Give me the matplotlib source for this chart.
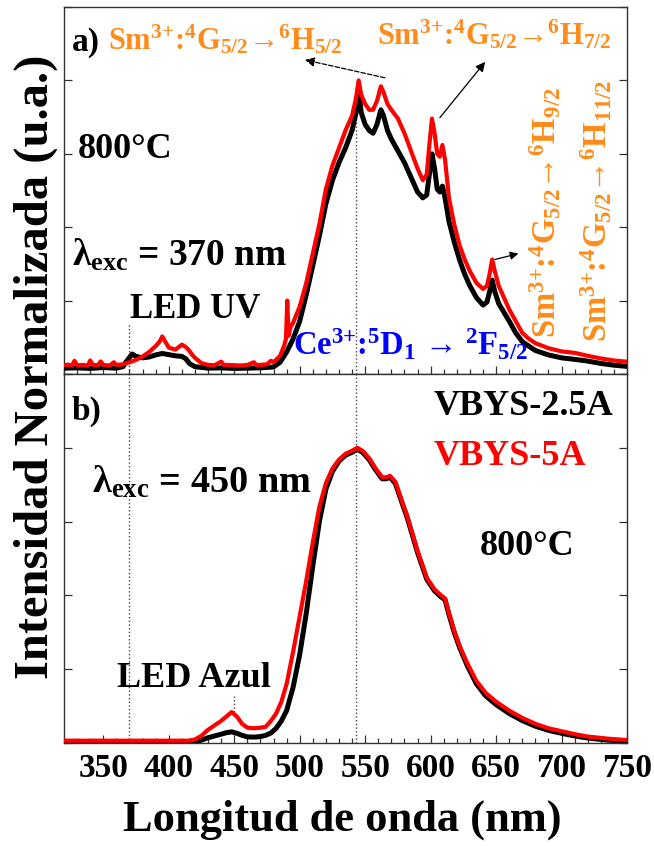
import matplotlib
matplotlib.use("Agg")
import matplotlib.pyplot as plt
from matplotlib.ticker import MultipleLocator, NullFormatter

# ---- emission spectra, excitation 370 nm (panel a) ----
wl_a_5A = [320, 323, 326, 328, 330, 335, 338, 340, 342, 346, 348, 350, 355, 358, 360, 365,
           370, 375, 380, 385, 390, 393, 395, 398, 400, 405, 410, 413, 415, 418, 420, 425,
           430, 435, 440, 442, 450, 455, 460, 465, 467, 470, 475, 478, 480, 485, 488, 489.5,
           490.5, 491.5, 493, 495, 500, 505, 510, 515, 520, 525, 530, 535, 540, 543, 545, 547,
           550, 553, 556, 559, 562, 564, 567, 570, 575, 580, 585, 590, 594, 597, 599, 601,
           603, 605, 607, 609, 611, 614, 618, 622, 626, 630, 635, 640, 643, 645, 647, 649,
           652, 656, 660, 665, 670, 675, 680, 690, 700, 710, 720, 730, 740, 750]
int_a_5A = [.030, .032, .029, .045, .030, .031, .028, .046, .031, .030, .043, .031, .029, .040, .031, .033,
            .040, .048, .060, .075, .095, .110, .128, .105, .090, .083, .100, .092, .083, .065, .055, .037,
            .031, .030, .042, .031, .030, .029, .031, .040, .030, .031, .033, .045, .040, .062, .095, .120,
            .250, .130, .160, .175, .230, .310, .410, .510, .630, .710, .770, .830, .880, .940, 1.00, .950,
            .920, .900, .900, .930, .980, .960, .920, .900, .870, .820, .760, .700, .660, .680, .780, .870,
            .820, .750, .740, .780, .730, .600, .510, .440, .390, .350, .310, .290, .300, .340, .390, .350,
            .300, .260, .220, .180, .140, .120, .105, .088, .077, .072, .062, .053, .046, .042]

wl_a_25A = [320, 330, 340, 350, 360, 365, 368, 372, 375, 380, 385, 390, 395, 400, 405, 410,
            413, 416, 420, 430, 440, 450, 460, 470, 480, 485, 490, 495, 500, 505, 510, 515,
            520, 525, 530, 535, 540, 543, 545, 547, 550, 553, 556, 559, 562, 564, 567, 570,
            575, 580, 585, 590, 594, 597, 599, 601, 603, 605, 607, 609, 611, 614, 618, 622,
            626, 630, 635, 640, 643, 645, 647, 649, 652, 656, 660, 665, 670, 675, 680, 690,
            700, 710, 720, 730, 740, 750]
int_a_25A = [.020, .021, .019, .022, .020, .025, .045, .068, .060, .055, .058, .065, .070, .066, .062, .060,
             .052, .035, .025, .020, .021, .019, .020, .021, .024, .040, .075, .120, .180, .270, .370, .470,
             .580, .660, .720, .770, .830, .890, .970, .890, .850, .830, .820, .850, .900, .880, .830, .800,
             .760, .720, .670, .620, .600, .610, .680, .750, .700, .630, .620, .640, .600, .520, .450, .390,
             .340, .300, .260, .235, .245, .280, .320, .280, .240, .210, .180, .140, .110, .095, .080, .065,
             .055, .050, .044, .036, .030, .026]

# ---- emission spectra, excitation 450 nm (panel b) ----
wl_b = [320, 340, 360, 380, 400, 415, 420, 425, 430, 435, 440, 444, 448, 452, 456, 460,
        465, 470, 474, 478, 482, 486, 490, 495, 500, 505, 510, 515, 520, 525, 530, 535,
        540, 544, 548, 553, 558, 563, 566, 569, 573, 578, 582, 590, 597, 603, 608, 611,
        614, 618, 622, 628, 635, 642, 650, 660, 670, 680, 690, 700, 710, 720, 735, 750]
int_b_5A = [.008, .008, .008, .008, .008, .008, .012, .025, .045, .060, .075, .090, .105, .090, .065, .052,
            .050, .052, .055, .075, .100, .140, .200, .310, .430, .550, .680, .800, .880, .930, .960, .980,
            .990, 1.00, .990, .965, .930, .900, .900, .905, .885, .820, .770, .650, .560, .520, .500, .490,
            .440, .380, .330, .270, .210, .170, .140, .110, .085, .065, .050, .040, .030, .022, .015, .010]
int_b_25A = [.003, .003, .003, .003, .003, .004, .004, .010, .018, .024, .030, .035, .038, .033, .026, .021,
             .020, .022, .026, .034, .050, .075, .110, .190, .300, .440, .600, .750, .860, .920, .955, .975,
             .985, .995, .985, .960, .925, .895, .895, .900, .880, .815, .765, .645, .555, .515, .495, .485,
             .435, .375, .325, .262, .200, .160, .130, .100, .076, .057, .043, .033, .024, .017, .010, .006]

x_ticks = [350, 400, 450, 500, 550, 600, 650, 700, 750]
sample_names = ["VBYS-2.5A", "VBYS-5A"]
sample_colors = ["black", "#ff0000"]

plt.rcParams["font.family"] = ["Liberation Serif", "DejaVu Serif"]
plt.rcParams["font.weight"] = "bold"
plt.rcParams["mathtext.fontset"] = "custom"
plt.rcParams["mathtext.rm"] = "Liberation Serif:bold"
plt.rcParams["mathtext.it"] = "Liberation Serif:bold"
plt.rcParams["mathtext.bf"] = "Liberation Serif:bold"

ORANGE = "#ff8c1a"
BLUE = "#0000ff"


def sm_label(final):
    return r"Sm$^{3{+}}$:$^{4}$G$_{5/2}$→$^{6}$H$_{" + final + "}$"


fig = plt.figure(figsize=(6.54, 8.46), dpi=100)
ax_a = fig.add_axes([0.0979, 0.5579, 0.8609, 0.4338])
ax_b = fig.add_axes([0.0979, 0.1217, 0.8609, 0.4362])

for ax in (ax_a, ax_b):
    ax.set_xlim(320, 750)
    ax.set_ylim(0, 1.25)
    ax.xaxis.set_major_locator(plt.FixedLocator(x_ticks))
    ax.xaxis.set_minor_locator(MultipleLocator(10))
    ax.yaxis.set_major_locator(MultipleLocator(0.25))
    ax.yaxis.set_major_formatter(NullFormatter())
    ax.tick_params(which="both", direction="in", left=True, right=True, top=False,
                   width=0.9, color="#333333")
    ax.tick_params(which="major", length=6)
    ax.tick_params(which="minor", length=3.5)
    for s in ax.spines.values():
        s.set_linewidth(1.0)
        s.set_color("#333333")

ax_a.tick_params(labelbottom=False)
ax_b.tick_params(axis="x", labelsize=24, pad=7)

# panel a
ax_a.plot([370, 370], [0, 0.17], ls=":", lw=1, color="#444444", zorder=1)
ax_a.plot([543, 543], [0, 0.95], ls=":", lw=1, color="#444444", zorder=1)
ax_a.plot(wl_a_25A, int_a_25A, color=sample_colors[0], lw=3.6, zorder=3)
ax_a.plot(wl_a_5A, int_a_5A, color=sample_colors[1], lw=3.0, zorder=4)

ax_a.text(326, 1.128, "a)", fontsize=24, va="center", ha="left")
ax_a.text(353.5, 1.107, sm_label("5/2"),
          fontsize=22, color=ORANGE, va="baseline", ha="left")
ax_a.text(559, 1.124, sm_label("7/2"),
          fontsize=22, color=ORANGE, va="baseline", ha="left")
ax_a.text(696, 0.122, sm_label("9/2"),
          fontsize=23.5, color=ORANGE, rotation=90, rotation_mode="anchor",
          va="baseline", ha="left")
ax_a.text(734.5, 0.109, sm_label("11/2"),
          fontsize=23.5, color=ORANGE, rotation=90, rotation_mode="anchor",
          va="baseline", ha="left")
ax_a.text(330.5, 0.737, "800°C", fontsize=26, va="baseline", ha="left")
ax_a.text(326, 0.37, r"λ$_{exc}$ = 370 nm", fontsize=27, va="baseline", ha="left")
ax_a.text(370.5, 0.19, "LED UV", fontsize=25, va="baseline", ha="left")
ax_a.text(495, 0.065, r"Ce$^{3{+}}$:$^{5}$D$_{1}$ → $^{2}$F$_{5/2}$",
          fontsize=23.5, color=BLUE, va="baseline", ha="left")

ax_a.annotate("", xy=(504, 1.07), xytext=(565, 1.009),
              arrowprops=dict(arrowstyle="-|>", ls="--", lw=0.9, color="black",
                              mutation_scale=14, shrinkA=0, shrinkB=0))
ax_a.annotate("", xy=(641.6, 1.063), xytext=(607, 0.873),
              arrowprops=dict(arrowstyle="-|>", lw=0.9, color="black",
                              mutation_scale=14, shrinkA=0, shrinkB=0))
ax_a.annotate("", xy=(667, 0.41), xytext=(649, 0.39),
              arrowprops=dict(arrowstyle="-|>", lw=0.9, color="black",
                              mutation_scale=12, shrinkA=0, shrinkB=0))

# panel b
ax_b.plot([370, 370], [0, 1.25], ls=":", lw=1, color="#444444", zorder=1)
ax_b.plot([543, 543], [0, 1.25], ls=":", lw=1, color="#444444", zorder=1)
ax_b.plot([450, 450], [0.105, 0.163], ls=":", lw=1, color="#444444", zorder=1)
ax_b.plot(wl_b, int_b_25A, color=sample_colors[0], lw=3.6, zorder=3)
ax_b.plot(wl_b, int_b_5A, color=sample_colors[1], lw=3.0, zorder=4)

ax_b.text(326, 1.094, "b)", fontsize=24, va="baseline", ha="left")
ax_b.text(602, 1.111, sample_names[0], fontsize=26, color=sample_colors[0],
          va="baseline", ha="left")
ax_b.text(602, 0.942, sample_names[1], fontsize=26, color=sample_colors[1],
          va="baseline", ha="left")
ax_b.text(341.5, 0.847, r"λ$_{exc}$ = 450 nm", fontsize=27.5, va="baseline", ha="left")
ax_b.text(637.7, 0.637, "800°C", fontsize=26, va="baseline", ha="left")
ax_b.text(360.5, 0.19, "LED Azul", fontsize=26, va="baseline", ha="left")

fig.text(0.523, 0.031, "Longitud de onda (nm)", fontsize=32, ha="center", va="center")
fig.text(0.054, 0.566, "Intensidad Normalizada (u.a.)", fontsize=35, rotation=90,
         ha="center", va="center")

fig.savefig("out.png", dpi=100)
